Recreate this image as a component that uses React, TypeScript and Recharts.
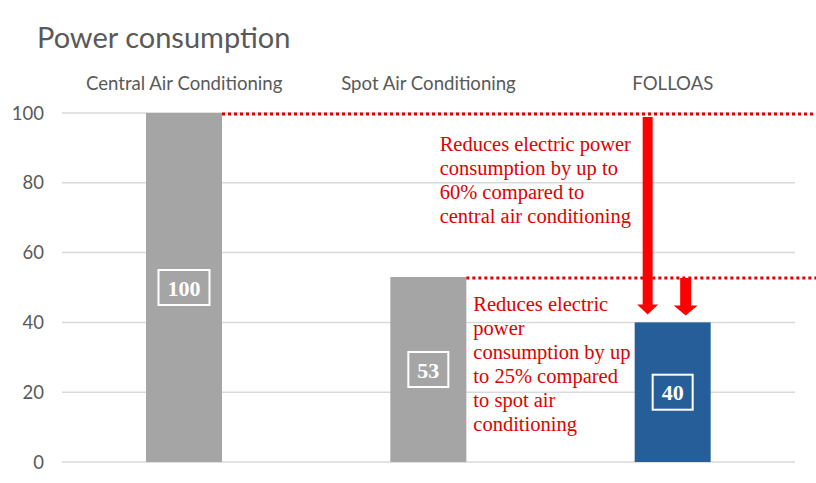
import { Bar, BarChart, CartesianGrid, Cell, XAxis, YAxis } from "recharts";

// Values.
const CATEGORIES = ["Central Air Conditioning", "Spot Air Conditioning", "FOLLOAS"];
const CONSUMPTION = [100, 53, 40];
const BAR_COLORS = ["#a5a5a5", "#a5a5a5", "#255e99"];
const Y_TICKS = [0, 20, 40, 60, 80, 100];
const NOTE_CENTRAL = ["Reduces electric power", "consumption by up to", "60% compared to", "central air conditioning"];
const NOTE_SPOT = ["Reduces electric", "power", "consumption by up", "to 25% compared", "to spot air", "conditioning"];

const data = CATEGORIES.map((name, i) => ({ name, value: CONSUMPTION[i] }));

const W = 816;
const H = 483;
const GREY_TEXT = "#595959";
const RED = "#e00000";
const ARROW_RED = "#ff0000";
const SANS = "Lato, 'Open Sans', sans-serif";
const SERIF = "'Liberation Serif', 'Times New Roman', serif";

function Arrow({ x, y1, y2, stem, head }: { x: number; y1: number; y2: number; stem: number; head: number }) {
  const hy = y2 - 10;
  const d = `M${x - stem / 2} ${y1} L${x + stem / 2} ${y1} L${x + stem / 2} ${hy} L${x + head / 2} ${hy} L${x} ${y2} L${x - head / 2} ${hy} L${x - stem / 2} ${hy} Z`;
  return <path d={d} fill={ARROW_RED} />;
}

function Note({ x, y, lines }: { x: number; y: number; lines: string[] }) {
  return (
    <text x={x} y={y} fill={RED} fontFamily={SERIF} fontSize={20.5}>
      {lines.map((l, i) => (
        <tspan key={i} x={x} dy={i ? 24 : 0}>
          {l}
        </tspan>
      ))}
    </text>
  );
}

// Bar shape: the rect, its boxed value, and the comparison annotations.
function BarShape(props: any) {
  const { x, y, width, height, fill, index, payload } = props;
  const value = payload.value as number;
  const base = y + height;
  const yOf = (v: number) => base - (v * height) / value;
  const cx = x + width / 2;
  const cy = y + height / 2;
  const label = String(value);
  const boxW = label.length * 11 + 18;
  const boxH = 35;

  return (
    <g>
      <rect x={x} y={y} width={width} height={height} fill={fill} />
      {index < 2 && (
        <line x1={x + width} y1={y + 1} x2={W} y2={y + 1} stroke={RED} strokeWidth={3} strokeDasharray="3 3" />
      )}
      {index === 1 && <Note x={x + width + 7} y={y + 34} lines={NOTE_SPOT} />}
      {index === 2 && (
        <>
          <Note x={x - 195} y={yOf(CONSUMPTION[0]) + 38} lines={NOTE_CENTRAL} />
          <Arrow x={x + 13} y1={yOf(CONSUMPTION[0]) + 4} y2={y - 8} stem={10} head={21} />
          <Arrow x={x + 51} y1={yOf(CONSUMPTION[1]) + 1} y2={y - 7} stem={11} head={24} />
        </>
      )}
      <rect x={cx - boxW / 2} y={cy - boxH / 2} width={boxW} height={boxH} fill="none" stroke="#fff" strokeWidth={2} />
      <text
        x={cx}
        y={cy + 8}
        textAnchor="middle"
        fill="#fff"
        fontFamily={SERIF}
        fontWeight="bold"
        fontSize={22}
      >
        {label}
      </text>
    </g>
  );
}

export default function App() {
  return (
    <div style={{ position: "absolute", left: 0, top: 0, width: W, height: H, background: "#fff" }}>
      <svg width={W} height={60} style={{ position: "absolute", left: 0, top: 0 }}>
        <text x={37} y={48} fill={GREY_TEXT} fontFamily={SANS} fontSize={29}>
          Power consumption
        </text>
      </svg>
      <div style={{ position: "absolute", left: 0, top: 0 }}>
        <BarChart width={W} height={H} data={data} margin={{ top: 83, right: 21, bottom: 21, left: 12 }}>
          <CartesianGrid vertical={false} stroke="#d9d9d9" strokeWidth={1.5} />
          <XAxis
            dataKey="name"
            orientation="top"
            height={30}
            tickLine={false}
            axisLine={false}
            tickSize={0}
            tickMargin={23}
            tick={{ fill: GREY_TEXT, fontSize: 18.6, fontFamily: SANS }}
            interval={0}
          />
          <YAxis
            width={50}
            domain={[0, 100]}
            ticks={Y_TICKS}
            tickLine={false}
            axisLine={false}
            tickSize={0}
            tickMargin={18}
            tick={{ fill: GREY_TEXT, fontSize: 18.5, fontFamily: SANS }}
          />
          <Bar dataKey="value" barSize={76} shape={<BarShape />} isAnimationActive={false}>
            {data.map((d, i) => (
              <Cell key={d.name} fill={BAR_COLORS[i]} />
            ))}
          </Bar>
        </BarChart>
      </div>
    </div>
  );
}
